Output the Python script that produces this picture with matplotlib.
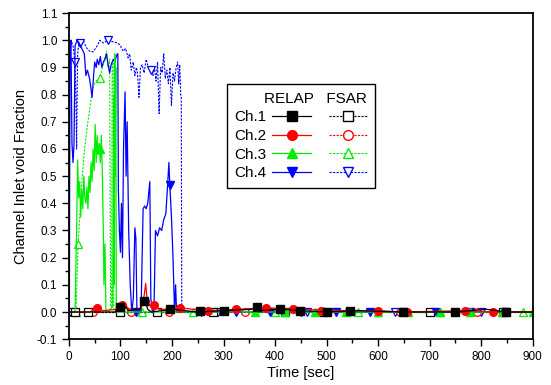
import matplotlib
matplotlib.use("Agg")
import matplotlib.pyplot as plt
from matplotlib.lines import Line2D
from matplotlib.ticker import MultipleLocator

plt.rcParams['font.family'] = ['Liberation Sans', 'DejaVu Sans']
plt.rcParams['axes.unicode_minus'] = False

# RELAP results (solid lines)
relap1_t = [0, 40, 90, 95, 100, 110, 115, 138, 143, 148, 153, 160, 200, 250, 300, 355, 362, 370, 410, 450, 500, 560, 650, 750, 810, 850, 900]
relap1_v = [0.0, 0.0, 0.0, 0.02, 0.025, 0.02, 0.005, 0.01, 0.05, 0.04, 0.01, 0.0, 0.01, 0.0, 0.005, 0.01, 0.02, 0.005, 0.01, 0.005, 0.0, 0.005, 0.0, 0.0, 0.01, 0.0, 0.0]
relap1_mk_t = [100, 145, 196, 254, 300, 364, 409, 448, 500, 545, 648, 749, 848]
relap1_mk_v = [0.02, 0.04, 0.01, 0.005, 0.005, 0.02, 0.01, 0.005, 0.0, 0.005, 0.0, 0.0, 0.0]

relap2_t = [0, 40, 50, 58, 65, 95, 104, 112, 120, 140, 146, 149, 152, 158, 165, 175, 190, 215, 270, 325, 383, 435, 545, 600, 648, 768, 822, 900]
relap2_v = [0.0, 0.0, 0.01, 0.02, 0.005, 0.01, 0.025, 0.02, 0.005, 0.01, 0.06, 0.105, 0.04, 0.02, 0.025, 0.01, 0.01, 0.015, 0.005, 0.01, 0.015, 0.01, 0.005, 0.005, 0.0, 0.005, 0.0, 0.0]
relap2_mk_t = [54, 104, 148, 165, 215, 270, 325, 383, 435, 490, 545, 600, 655, 768, 822]
relap2_mk_v = [0.015, 0.025, 0.04, 0.025, 0.015, 0.005, 0.01, 0.015, 0.01, 0.005, 0.005, 0.005, 0.0, 0.005, 0.0]

relap3_t = [0, 12, 15, 17, 19, 21, 23, 25, 27, 29, 31, 33, 35, 37, 39, 41, 43, 45, 47, 49, 51, 53, 55, 57, 59, 61, 63, 65, 67, 68, 70, 72, 75, 85, 87, 88, 89, 90, 91, 92, 93, 900]
relap3_v = [0.0, 0.0, 0.3, 0.56, 0.42, 0.48, 0.35, 0.45, 0.38, 0.5, 0.42, 0.4, 0.46, 0.38, 0.5, 0.44, 0.55, 0.48, 0.6, 0.52, 0.69, 0.55, 0.65, 0.58, 0.62, 0.55, 0.65, 0.5, 0.28, 0.1, 0.25, 0.0, 0.0, 0.02, 0.8, 0.1, 0.95, 0.5, 0.9, 0.0, 0.0, 0.0]
relap3_mk_t = [61, 361, 420, 477, 538, 600, 658, 720, 778, 840, 900]
relap3_mk_v = [0.6, 0.0, 0.0, 0.0, 0.0, 0.0, 0.0, 0.0, 0.0, 0.0, 0.0]

relap4_t = [0, 1, 2, 4, 6, 8, 10, 12, 16, 20, 25, 30, 33, 36, 40, 43, 45, 48, 50, 53, 55, 58, 61, 64, 67, 70, 73, 76, 79, 82, 86, 89, 92, 94,
            95, 96, 98, 100, 102, 104, 106, 109, 111, 113, 116, 119, 122, 125, 128, 130, 132, 140, 144, 147, 150, 153, 157, 159, 162, 165,
            168, 172, 176, 180, 184, 188, 191, 194, 196, 199, 202, 205, 207, 209, 900]
relap4_v = [0.0, 0.0, 0.95, 1.0, 0.62, 0.55, 0.62, 0.98, 1.0, 0.99, 0.97, 0.95, 0.87, 0.89, 0.86, 0.82, 0.79, 0.87, 0.92, 0.9, 0.93, 0.91, 0.94, 0.9, 0.92, 0.93, 0.95, 0.91, 0.88, 0.91, 0.93, 0.92, 0.94, 0.95,
            0.95, 0.45, 0.3, 0.22, 0.4, 0.2, 0.6, 0.81, 0.5, 0.7, 0.3, 0.1, 0.0, 0.05, 0.31, 0.27, 0.0, 0.0, 0.38, 0.39, 0.38, 0.4, 0.48, 0.05, 0.0, 0.0,
            0.3, 0.28, 0.31, 0.3, 0.34, 0.36, 0.45, 0.55, 0.46, 0.35, 0.2, 0.0, 0.1, 0.0, 0.0]
relap4_mk_t = [131, 196, 257, 325, 390, 451, 519, 584, 648, 713, 778, 846]
relap4_mk_v = [0.0, 0.466, 0.0, 0.0, 0.0, 0.0, 0.0, 0.0, 0.0, 0.0, 0.0, 0.0]

# FSAR results (dashed lines)
fsar1_t = [0, 900]
fsar1_v = [0.0, 0.0]
fsar1_mk_t = [12, 38, 100, 170, 280, 419, 493, 700, 842]
fsar1_mk_v = [0.0, 0.0, 0.0, 0.0, 0.0, 0.0, 0.0, 0.0, 0.0]

fsar2_t = [0, 900]
fsar2_v = [0.0, 0.0]
fsar2_mk_t = [47, 120, 194, 341, 490, 642, 791]
fsar2_mk_v = [0.0, 0.0, 0.0, 0.0, 0.0, 0.0, 0.0]

fsar3_t = [0, 12, 14, 18, 22, 26, 31, 37, 42, 47, 53, 60, 65, 69, 73, 76, 79, 81, 83, 84, 86, 87, 900]
fsar3_v = [0.0, 0.0, 0.02, 0.25, 0.38, 0.5, 0.61, 0.7, 0.77, 0.83, 0.85, 0.86, 0.9, 0.93, 0.96, 0.9, 0.93, 0.02, 0.02, 0.9, 0.92, 0.0, 0.0]
fsar3_mk_t = [14, 18, 60, 141, 241, 400, 561, 720, 881]
fsar3_mk_v = [0.0, 0.25, 0.86, 0.0, 0.0, 0.0, 0.0, 0.0, 0.0]

fsar4_t = [0, 2, 4, 8, 12, 14, 15, 16, 17, 20, 27, 35, 40, 47, 55, 60, 67, 75, 85, 95, 100, 105, 110, 115, 118, 121, 125, 128, 131, 133, 136,
           139, 142, 146, 150, 154, 157, 160, 163, 166, 169, 172, 175, 178, 181, 184, 187, 190, 193, 196, 199, 202, 205, 208, 211, 213, 215, 217, 218, 219, 900]
fsar4_v = [0.0, 0.92, 1.0, 0.98, 0.92, 0.75, 0.6, 0.8, 0.95, 1.0, 1.0, 0.97, 0.96, 0.957, 0.98, 1.0, 0.99, 1.0, 0.995, 0.99, 0.98, 0.96, 0.97, 0.935, 0.95, 0.89, 0.92, 0.87, 0.9, 0.88, 0.79,
           0.9, 0.91, 0.88, 0.93, 0.9, 0.89, 0.89, 0.87, 0.9, 0.85, 0.92, 0.73, 0.9, 0.88, 0.95, 0.86, 0.89, 0.84, 0.9, 0.76, 0.88, 0.85, 0.9, 0.92, 0.84, 0.91, 0.8, 0.79, 0.0, 0.0]
fsar4_mk_t = [2, 12, 21, 75, 160, 290, 461, 632, 800]
fsar4_mk_v = [0.0, 0.92, 0.99, 1.0, 0.89, 0.0, 0.0, 0.0, 0.0]

channels = ['Ch.1', 'Ch.2', 'Ch.3', 'Ch.4']
colors = ['black', '#ff0000', '#00ee00', '#0000ff']
markers = ['s', 'o', '^', 'v']

relap = [(relap1_t, relap1_v, relap1_mk_t, relap1_mk_v), (relap2_t, relap2_v, relap2_mk_t, relap2_mk_v),
         (relap3_t, relap3_v, relap3_mk_t, relap3_mk_v), (relap4_t, relap4_v, relap4_mk_t, relap4_mk_v)]
fsar = [(fsar1_t, fsar1_v, fsar1_mk_t, fsar1_mk_v), (fsar2_t, fsar2_v, fsar2_mk_t, fsar2_mk_v),
        (fsar3_t, fsar3_v, fsar3_mk_t, fsar3_mk_v), (fsar4_t, fsar4_v, fsar4_mk_t, fsar4_mk_v)]

dash = (0, (2.0, 1.2))

fig = plt.figure(figsize=(5.51, 3.85), dpi=100)
ax = fig.add_axes([0.125, 0.119, 0.842, 0.847])

for i in [3, 2, 1, 0]:
    t, v, mt, mv = fsar[i]
    ax.plot(t, v, color=colors[i], lw=0.8, ls=dash)
    ax.plot(mt, mv, ls='none', marker=markers[i], ms=5.5, mfc='white', mec=colors[i], mew=0.9)
for i in [3, 2, 1, 0]:
    t, v, mt, mv = relap[i]
    ax.plot(t, v, color=colors[i], lw=0.9)
    ax.plot(mt, mv, ls='none', marker=markers[i], ms=5.5, color=colors[i])

ax.set_xlim(0, 900)
ax.set_ylim(-0.1, 1.1)
ax.xaxis.set_major_locator(MultipleLocator(100))
ax.xaxis.set_minor_locator(MultipleLocator(50))
ax.yaxis.set_major_locator(MultipleLocator(0.1))
ax.yaxis.set_minor_locator(MultipleLocator(0.05))
ax.yaxis.set_major_formatter(lambda x, _: f"{x:.1f}")
ax.tick_params(which='both', direction='out', top=False, right=False, labelsize=8.5, width=1.0)
ax.tick_params(which='major', length=5)
ax.tick_params(which='minor', length=3)
for s in ax.spines.values():
    s.set_linewidth(1.3)

ax.set_xlabel('Time [sec]', fontsize=10.5, labelpad=2)
ax.set_ylabel('Channel Inlet void Fraction', fontsize=10.5, labelpad=6)

handles = [Line2D([], [], color=colors[i], lw=0.9, marker=markers[i], ms=7) for i in range(4)]
handles += [Line2D([], [], color=colors[i], lw=0.8, ls=dash, marker=markers[i], ms=7, mfc='white', mec=colors[i])
            for i in range(4)]
labels = channels + ['', '', '', '']
leg = ax.legend(handles, labels, ncol=2, markerfirst=False, loc='upper left', bbox_to_anchor=(0.34, 0.782),
                borderaxespad=0, fontsize=11, title='RELAP   FSAR', title_fontsize=11, alignment='right',
                fancybox=False, edgecolor='black', framealpha=1, handlelength=2.5, handletextpad=0.4,
                columnspacing=0.8, labelspacing=0.3, borderpad=0.5)
leg.get_frame().set_linewidth(1.0)

fig.savefig('out.png', dpi=100)
